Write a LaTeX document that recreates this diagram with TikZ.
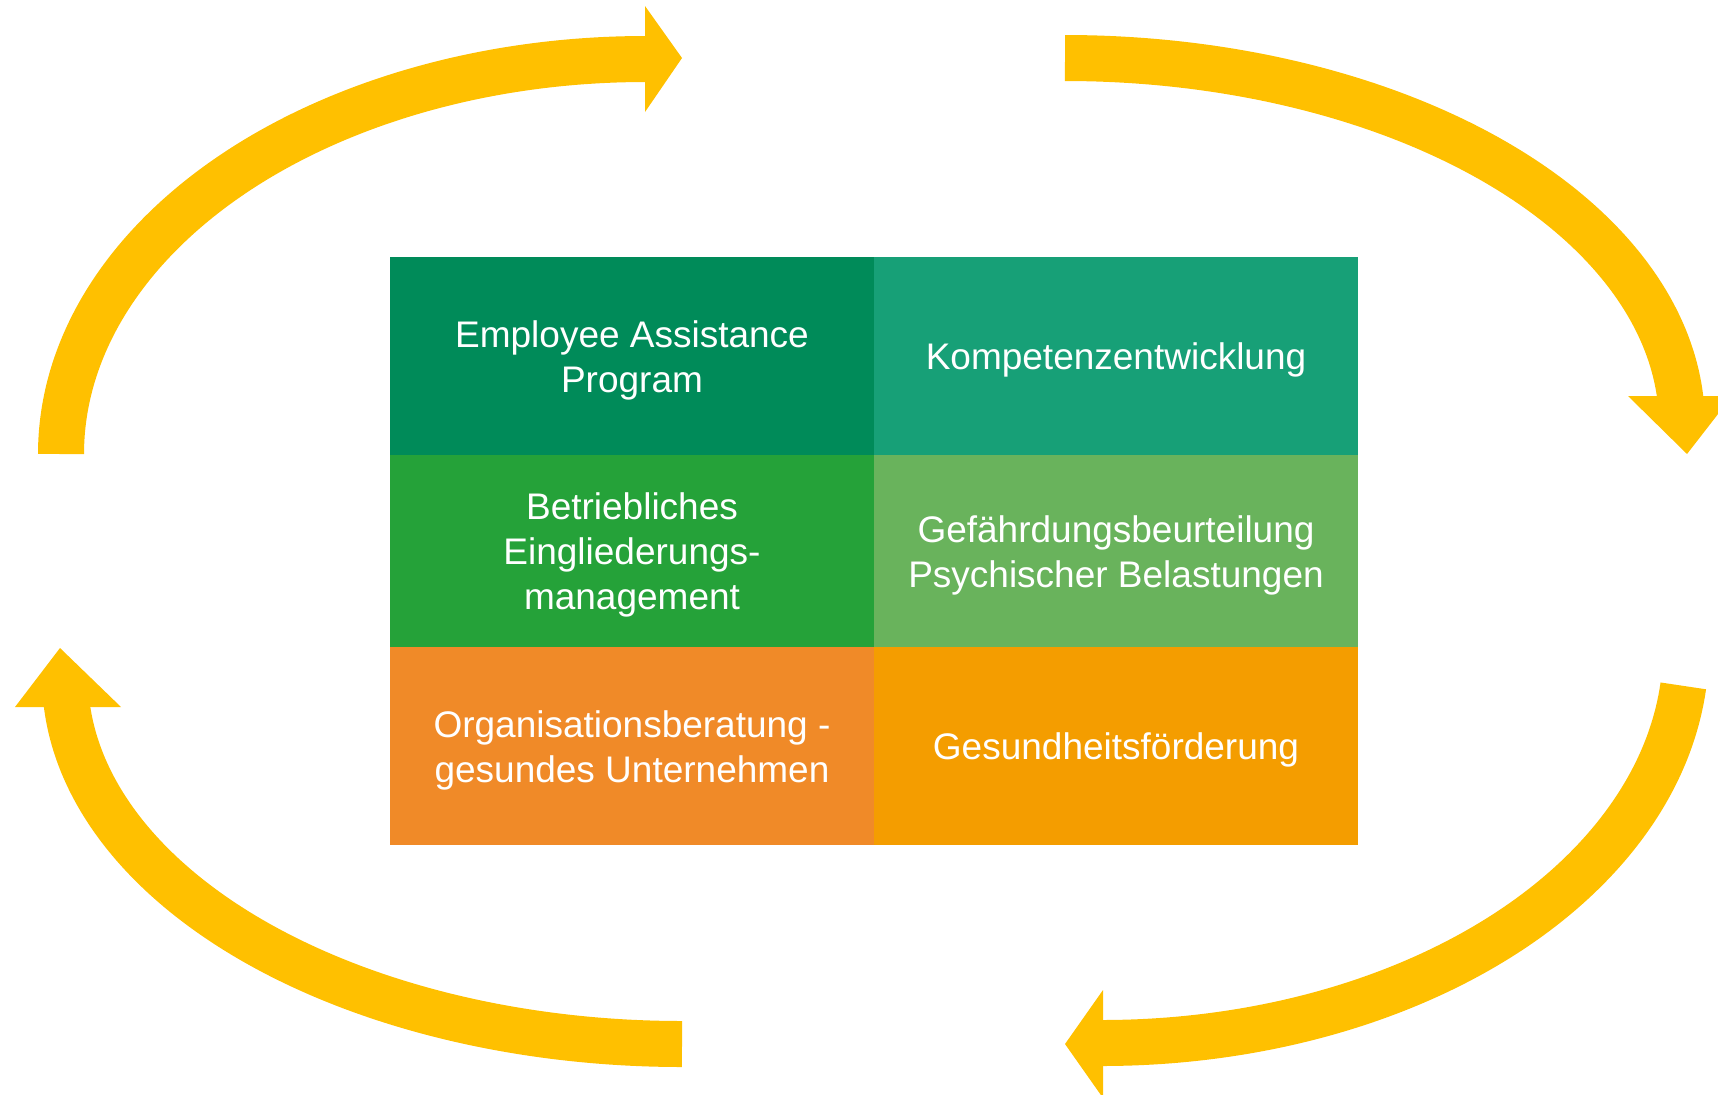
\documentclass[tikz,border=0pt]{standalone}
\usepackage{fontspec}
\setmainfont{Liberation Sans}
\definecolor{arrowc}{HTML}{FFC000}
\definecolor{cA}{HTML}{008B59}
\definecolor{cB}{HTML}{17A077}
\definecolor{cC}{HTML}{25A239}
\definecolor{cD}{HTML}{69B35C}
\definecolor{cE}{HTML}{F08A28}
\definecolor{cF}{HTML}{F49D00}
\begin{document}
\begin{tikzpicture}[x=0.5pt,y=-0.5pt,
  band/.style={draw=arrowc, line width=23pt, line cap=butt, line join=round},
  headtip/.style={fill=arrowc},
  cellbox/.style={inner sep=0pt, minimum width=242.3pt},
  celltext/.style={inner sep=0pt, text=white, align=center, yshift=-2.2pt,
    font=\fontsize{18.5}{22.5}\selectfont}]
\useasboundingbox (0,0) rectangle (1718,1094);
\clip (0,0) rectangle (1718,1094);
% cells
\node[cellbox, fill=cA, minimum height=99.3pt] (eap) at (632,356) {};
\node[cellbox, fill=cB, minimum height=99.3pt] (kom) at (1116,356) {};
\node[cellbox, fill=cC, minimum height=96.3pt] (bem) at (632,551) {};
\node[cellbox, fill=cD, minimum height=96.3pt] (gbp) at (1116,551) {};
\node[cellbox, fill=cE, minimum height=99pt] (org) at (632,746) {};
\node[cellbox, fill=cF, minimum height=99pt] (ges) at (1116,746) {};
\node[celltext] (eapt) at (eap.center) {Employee Assistance\\Program};
\node[celltext] (komt) at (kom.center) {Kompetenzentwicklung};
\node[celltext] (bemt) at (bem.center) {Betriebliches\\Eingliederungs-\\management};
\node[celltext] (gbpt) at (gbp.center) {Gefährdungsbeurteilung\\Psychischer Belastungen};
\node[celltext] (orgt) at (org.center) {Organisationsberatung -\\gesundes Unternehmen};
\node[celltext] (gest) at (ges.center) {Gesundheitsförderung};
% cycle arrows
\draw[band] plot[domain=180:271, samples=90, smooth, variable=\t] ({645+584*cos(\t)}, {454+395*sin(\t)});
\fill[headtip] (645,6) -- (682,58) -- (645,112) -- cycle;
\draw[band] plot[domain=270:357, samples=90, smooth, variable=\t] ({1065+617*cos(\t)}, {425+367*sin(\t)});
\fill[headtip] (1628,396) -- (1732,396) -- (1687,454) -- cycle;
\draw[band] plot[domain=5.5:91, samples=90, smooth, variable=\t] ({1102+584*cos(\t)}, {648+395*sin(\t)});
\fill[headtip] (1103,990) -- (1065,1044) -- (1103,1098) -- cycle;
\draw[band] plot[domain=90:177, samples=90, smooth, variable=\t] ({682+617*cos(\t)}, {677+367*sin(\t)});
\fill[headtip] (15,707) -- (121,707) -- (60,648) -- cycle;
\end{tikzpicture}
\end{document}
